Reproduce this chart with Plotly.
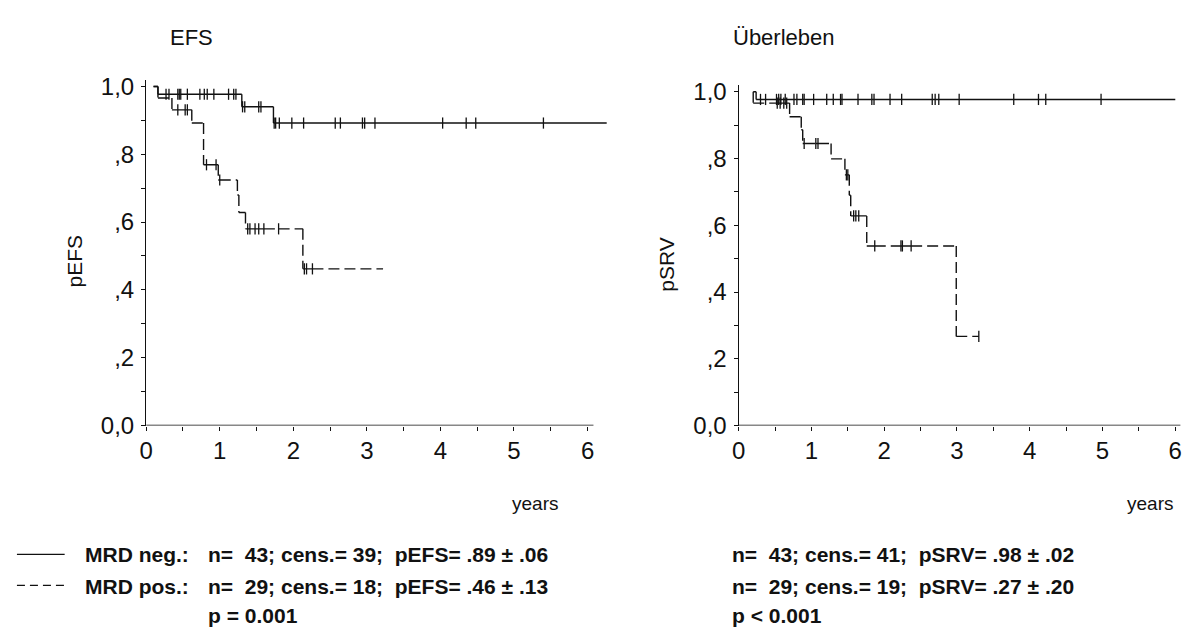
import plotly.graph_objects as go

W, H = 1190, 640

# ---------------- data ----------------
# EFS, MRD negative
efs_neg_start = 0.10
efs_neg_event_t = [0.16, 1.30, 1.73]
efs_neg_event_s = [0.977, 0.940, 0.892]
efs_neg_cens = [0.27, 0.31, 0.43, 0.45, 0.47, 0.56, 0.73, 0.79, 0.83, 0.92, 1.12, 1.19, 1.22,
                1.31, 1.34, 1.53, 1.56,
                1.74, 1.76, 1.81, 1.98, 2.14, 2.57, 2.64, 2.94, 2.97, 3.11, 4.03, 4.35, 4.48, 5.40]
efs_neg_end = 6.26

# EFS, MRD positive
efs_pos_start = 0.10
efs_pos_event_t = [0.16, 0.35, 0.62, 0.78, 0.98, 1.24, 1.26, 1.35, 2.13]
efs_pos_event_s = [0.966, 0.931, 0.892, 0.769, 0.724, 0.680, 0.628, 0.580, 0.462]
efs_pos_cens = [0.43, 0.53, 0.56, 0.82, 0.95, 1.00, 1.38, 1.41, 1.48, 1.53, 1.60, 1.80, 2.15, 2.18, 2.26]
efs_pos_end = 3.22

# Survival, MRD negative
srv_neg_start = 0.20
srv_neg_event_t = [0.24]
srv_neg_event_s = [0.977]
srv_neg_cens = [0.30, 0.37, 0.52, 0.55, 0.58, 0.64, 0.76, 0.80, 0.88, 0.90, 1.03, 1.21, 1.30, 1.40, 1.42,
                1.64, 1.83, 1.86, 2.08, 2.24, 2.66, 2.70, 2.75, 3.03, 3.78, 4.12, 4.22, 4.98]
srv_neg_end = 6.00

# Survival, MRD positive
srv_pos_start = 0.20
srv_pos_event_t = [0.20, 0.70, 0.86, 0.88, 1.27, 1.46, 1.52, 1.54, 1.76, 2.99]
srv_pos_event_s = [0.966, 0.925, 0.886, 0.845, 0.799, 0.751, 0.690, 0.628, 0.538, 0.267]
srv_pos_cens = [0.53, 0.57, 0.62, 0.66, 0.90, 1.06, 1.09, 1.48, 1.50, 1.58, 1.61, 1.65,
                1.87, 2.23, 2.25, 2.37, 3.30]
srv_pos_end = 3.30

x_tickvals = [0, 1, 2, 3, 4, 5, 6]
x_ticktext = ["0", "1", "2", "3", "4", "5", "6"]
y_tickvals = [0.0, 0.2, 0.4, 0.6, 0.8, 1.0]
y_ticktext = ["0,0", ",2", ",4", ",6", ",8", "1,0"]

titles = ["EFS", "Überleben"]
ytitles = ["pEFS", "pSRV"]
legend_left = ["MRD neg.:", "MRD pos.:"]
stats_left = ["n=\u00a0 43; cens.= 39;\u00a0 pEFS= .89 ± .06",
              "n=\u00a0 29; cens.= 18;\u00a0 pEFS= .46 ± .13"]
stats_right = ["n=\u00a0 43; cens.= 41;\u00a0 pSRV= .98 ± .02",
               "n=\u00a0 29; cens.= 19;\u00a0 pSRV= .27 ± .20"]
p_left = "p = 0.001"
p_right = "p < 0.001"


def km(start_t, ev_t, ev_s, cens, end_t):
    pts = [(t, 0, s) for t, s in zip(ev_t, ev_s)] + [(t, 1, None) for t in cens] + [(end_t, 2, None)]
    pts.sort(key=lambda p: (p[0], p[1]))
    xs, ys, cx, cy = [], [], [], []
    cur_t, cur_s = start_t, 1.0
    for t, kind, s in pts:
        if t > cur_t:
            xs += [cur_t, t, None]
            ys += [cur_s, cur_s, None]
            cur_t = t
        if kind == 0:
            xs += [t, t, None]
            ys += [cur_s, s, None]
            cur_s = s
        elif kind == 1:
            cx.append(t)
            cy.append(cur_s)
    return xs, ys, cx, cy


fig = go.Figure()

LW = 1.4
curves = [
    ("x", "y", (efs_neg_start, efs_neg_event_t, efs_neg_event_s, efs_neg_cens, efs_neg_end), "solid"),
    ("x", "y", (efs_pos_start, efs_pos_event_t, efs_pos_event_s, efs_pos_cens, efs_pos_end), "11px,5px"),
    ("x2", "y2", (srv_neg_start, srv_neg_event_t, srv_neg_event_s, srv_neg_cens, srv_neg_end), "solid"),
    ("x2", "y2", (srv_pos_start, srv_pos_event_t, srv_pos_event_s, srv_pos_cens, srv_pos_end), "11px,5px"),
]
for xa, ya, args, dash in curves:
    xs, ys, cx, cy = km(*args)
    fig.add_trace(go.Scatter(x=xs, y=ys, xaxis=xa, yaxis=ya, mode="lines",
                             line=dict(color="#111", width=LW, dash=dash),
                             connectgaps=False, hoverinfo="skip", showlegend=False))
    fig.add_trace(go.Scatter(x=cx, y=cy, xaxis=xa, yaxis=ya, mode="markers",
                             marker=dict(symbol="line-ns", size=8, color="#111",
                                         line=dict(color="#111", width=1.3)),
                             cliponaxis=False, hoverinfo="skip", showlegend=False))

TICKFONT = dict(family="Liberation Sans, Arial, sans-serif", size=24, color="#111")


def px_dom(a, b, total):
    return [a / total, b / total]


# Left plot geometry: x0=140px, 74px/yr; y0=432px, 350px/unit
# Right plot geometry: x0=736px, 73.2px/yr; y0=432px, 344.5px/unit
lx_rng, rx_rng, y_rng = 6.3, 6.15, 1.02
left_dom_x = px_dom(140, 140 + lx_rng * 74, W)
right_dom_x = px_dom(736, 736 + rx_rng * 73.2, W)
left_dom_y = [(H - 432) / H, (H - 432 + y_rng * 350) / H]
right_dom_y = [(H - 432) / H, (H - 432 + y_rng * 344.5) / H]

xcommon = dict(tickmode="array", tickvals=x_tickvals, ticktext=x_ticktext, ticks="outside",
               ticklen=4, tickwidth=1, tickcolor="#111", showline=False, showgrid=False,
               zeroline=False, tickfont=TICKFONT, fixedrange=True,
               minor=dict(dtick=0.5, tick0=0, ticks="outside", ticklen=4, tickwidth=1,
                          tickcolor="#111", showgrid=False))
ycommon = dict(tickmode="array", tickvals=y_tickvals, ticktext=y_ticktext, ticks="outside",
               ticklen=4, tickwidth=1, tickcolor="#111", showline=True, linecolor="#111",
               linewidth=1.3, showgrid=False, zeroline=False, tickfont=TICKFONT,
               fixedrange=True, range=[0, y_rng], ticklabelstandoff=2,
               minor=dict(dtick=0.1, tick0=0, ticks="outside", ticklen=4, tickwidth=1,
                          tickcolor="#111", showgrid=False))

fig.update_layout(
    width=W, height=H, margin=dict(l=0, r=0, t=0, b=0),
    paper_bgcolor="white", plot_bgcolor="white", showlegend=False,
    xaxis=dict(domain=left_dom_x, range=[0, lx_rng], anchor="y", **xcommon),
    yaxis=dict(domain=left_dom_y, anchor="x", **ycommon),
    xaxis2=dict(domain=right_dom_x, range=[0, rx_rng], anchor="y2", **xcommon),
    yaxis2=dict(domain=right_dom_y, anchor="x2", **ycommon),
)

# x axis lines (ending near the 6-year tick)
fig.add_shape(type="line", xref="x", yref="y", x0=0, x1=6.08, y0=0, y1=0,
              line=dict(color="#111", width=1.3))
fig.add_shape(type="line", xref="x2", yref="y2", x0=0, x1=6.07, y0=0, y1=0,
              line=dict(color="#111", width=1.3))


def P(x, y):
    return x / W, 1 - y / H


def ann(text, x, y, size, xanchor="center", bold=False, angle=0):
    px, py = P(x, y)
    fig.add_annotation(text=("<b>%s</b>" % text) if bold else text, x=px, y=py,
                       xref="paper", yref="paper", showarrow=False, xanchor=xanchor,
                       yanchor="middle", textangle=angle, borderpad=0,
                       font=dict(family="Liberation Sans, Arial, sans-serif", size=size, color="#111"))


ann(titles[0], 186, 31, 22)
ann(titles[1], 782, 31, 22)
ann(ytitles[0], 68, 262, 21, angle=-90)
ann(ytitles[1], 664, 266, 21, angle=-90)
ann("years", 531, 513, 19)
ann("years", 1150, 513, 19)

rows_y = [565, 598]
for i in range(2):
    ann(legend_left[i], 77, rows_y[i], 21, xanchor="left", bold=True)
    ann(stats_left[i], 201, rows_y[i], 21, xanchor="left", bold=True)
    ann(stats_right[i], 728, rows_y[i], 21, xanchor="left", bold=True)
ann(p_left, 201, 628, 21, xanchor="left", bold=True)
ann(p_right, 728, 628, 21, xanchor="left", bold=True)

# legend line samples
fig.add_shape(type="line", xref="paper", yref="paper",
              x0=10 / W, x1=58 / W, y0=1 - 565 / H, y1=1 - 565 / H,
              line=dict(color="#111", width=1.3))
fig.add_shape(type="line", xref="paper", yref="paper",
              x0=10 / W, x1=58 / W, y0=1 - 597 / H, y1=1 - 597 / H,
              line=dict(color="#111", width=1.3, dash="8px,5px"))

fig.write_html("out.html", config={"displayModeBar": False})
